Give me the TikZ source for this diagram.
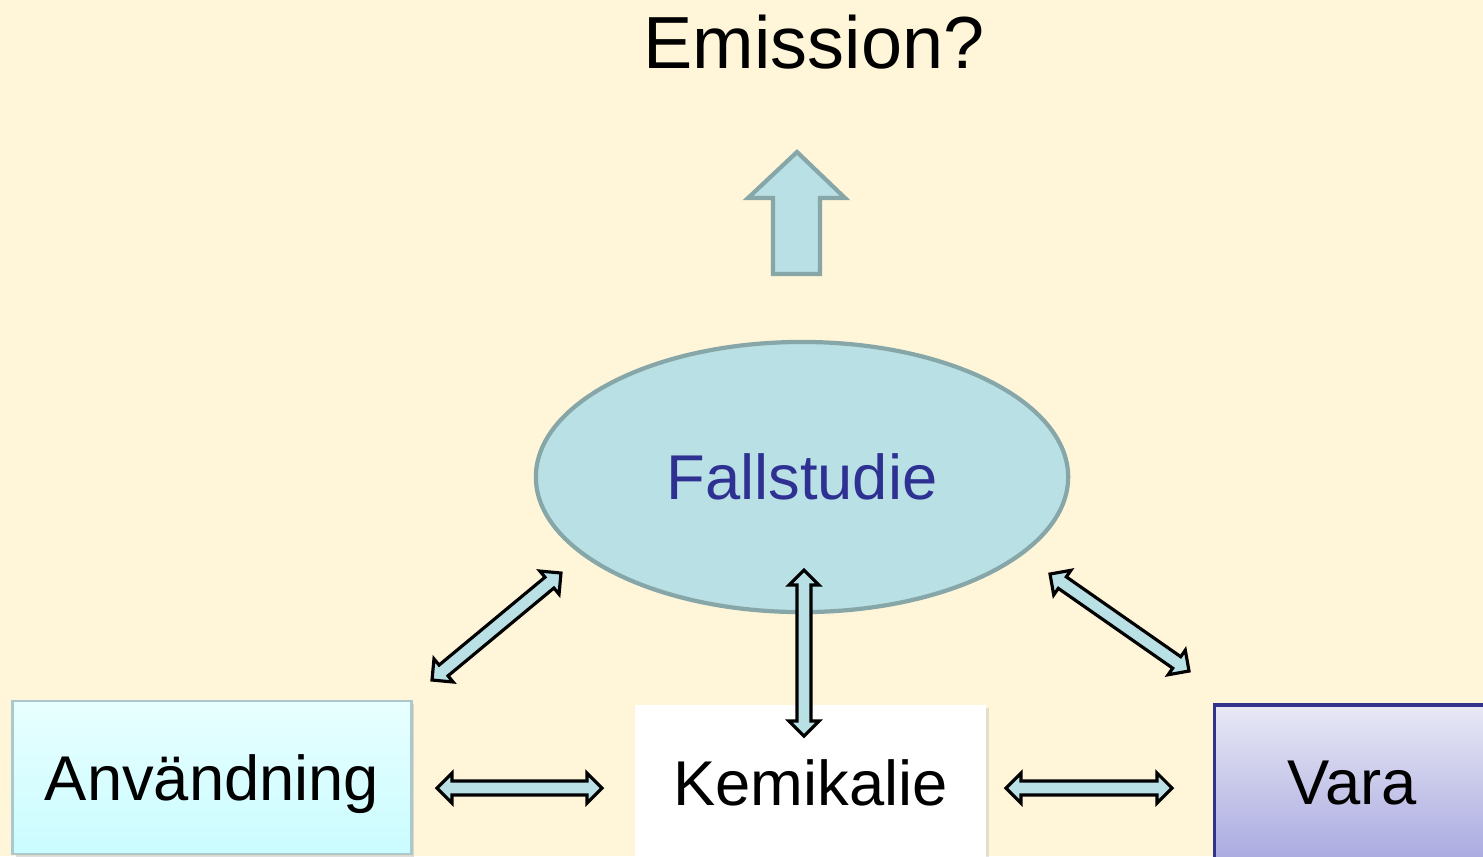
\documentclass[tikz,border=0pt]{standalone}
\usepackage{fontspec}
\setmainfont{Liberation Sans}
\usetikzlibrary{positioning,calc,shapes.geometric,shadows}
\definecolor{bgcream}{RGB}{255,245,217}
\definecolor{caseblue}{RGB}{185,224,228}
\definecolor{caseline}{RGB}{134,166,168}
\definecolor{fallink}{RGB}{46,49,146}
\definecolor{anvtop}{RGB}{232,255,255}
\definecolor{anvbot}{RGB}{202,252,255}
\definecolor{anvline}{RGB}{170,200,205}
\definecolor{varatop}{RGB}{232,232,246}
\definecolor{varabot}{RGB}{170,170,224}
\definecolor{varaline}{RGB}{50,50,140}
\newcommand{\ahl}{0.15cm}
\newcommand{\ahw}{0.15cm}
\newcommand{\asw}{0.07cm}
\newcommand{\dblarrow}[2]{%
  \draw[link] (#1) -- ($($(#1)!\ahl!(#2)$)!\ahw!90:(#2)$)
    -- ($($(#1)!\ahl!(#2)$)!\asw!90:(#2)$)
    -- ($($(#2)!\ahl!(#1)$)!\asw!-90:(#1)$)
    -- ($($(#2)!\ahl!(#1)$)!\ahw!-90:(#1)$)
    -- (#2)
    -- ($($(#2)!\ahl!(#1)$)!\ahw!90:(#1)$)
    -- ($($(#2)!\ahl!(#1)$)!\asw!90:(#1)$)
    -- ($($(#1)!\ahl!(#2)$)!\asw!-90:(#2)$)
    -- ($($(#1)!\ahl!(#2)$)!\ahw!-90:(#2)$) -- cycle;}
\tikzset{
  lbl/.style    ={font=\fontsize{18}{22}\selectfont},
  anvbox/.style ={rectangle, lbl, draw=anvline, line width=0.8pt, top color=anvtop, bottom color=anvbot,
                  minimum width=3.98cm, minimum height=1.53cm, text depth=0pt,
                  drop shadow={shadow xshift=0.3mm, shadow yshift=-0.3mm, opacity=0.25}},
  kembox/.style ={rectangle, lbl, fill=white, minimum width=3.51cm, minimum height=1.56cm,
                  drop shadow={shadow xshift=0.3mm, shadow yshift=-0.3mm, opacity=0.2}},
  varabox/.style={rectangle, lbl, draw=varaline, line width=0.9pt, top color=varatop, bottom color=varabot,
                  minimum width=2.75cm, minimum height=1.56cm},
  casenode/.style={ellipse, lbl, text=fallink, draw=caseline, line width=1.2pt, fill=caseblue,
                  minimum width=5.32cm, minimum height=2.70cm},
  link/.style   ={draw=black, line width=0.9pt, fill=caseblue, line join=miter},
  upblock/.style={draw=caseline, line width=1.2pt, fill=caseblue, line join=miter},
}
\begin{document}
\begin{tikzpicture}[x=0.01cm, y=-0.01cm]
  \fill[bgcream] (0,0) rectangle (1483,856);
  \useasboundingbox (0,0) rectangle (1483,856);
  \node[font=\fontsize{21}{25}\selectfont] (emis) at (814,42) {Emission?};
  \draw[upblock] (797,152) -- (845,198) -- (820,198) -- (820,274)
    -- (773,274) -- (773,198) -- (748,198) -- cycle;
  \node[casenode] (fall) at (802,477) {Fallstudie};
  \node[anvbox] (anv) at (212,777.5) {Användning};
  \node[kembox] (kem) at (810.5,783) {Kemikalie};
  \node[varabox] (vara) at (1352,783) {Vara};
  \coordinate (h1a) at (437,788);  \coordinate (h1b) at (602,788);
  \coordinate (h2a) at (1006,788); \coordinate (h2b) at (1172,788);
  \coordinate (v1a) at (804,570);  \coordinate (v1b) at (804,736);
  \coordinate (d1a) at (432,680);  \coordinate (d1b) at (561,573);
  \coordinate (d2a) at (1050,574); \coordinate (d2b) at (1189,671);
  \dblarrow{h1a}{h1b}
  \dblarrow{h2a}{h2b}
  \dblarrow{v1a}{v1b}
  \dblarrow{d1a}{d1b}
  \dblarrow{d2a}{d2b}
\end{tikzpicture}
\end{document}
